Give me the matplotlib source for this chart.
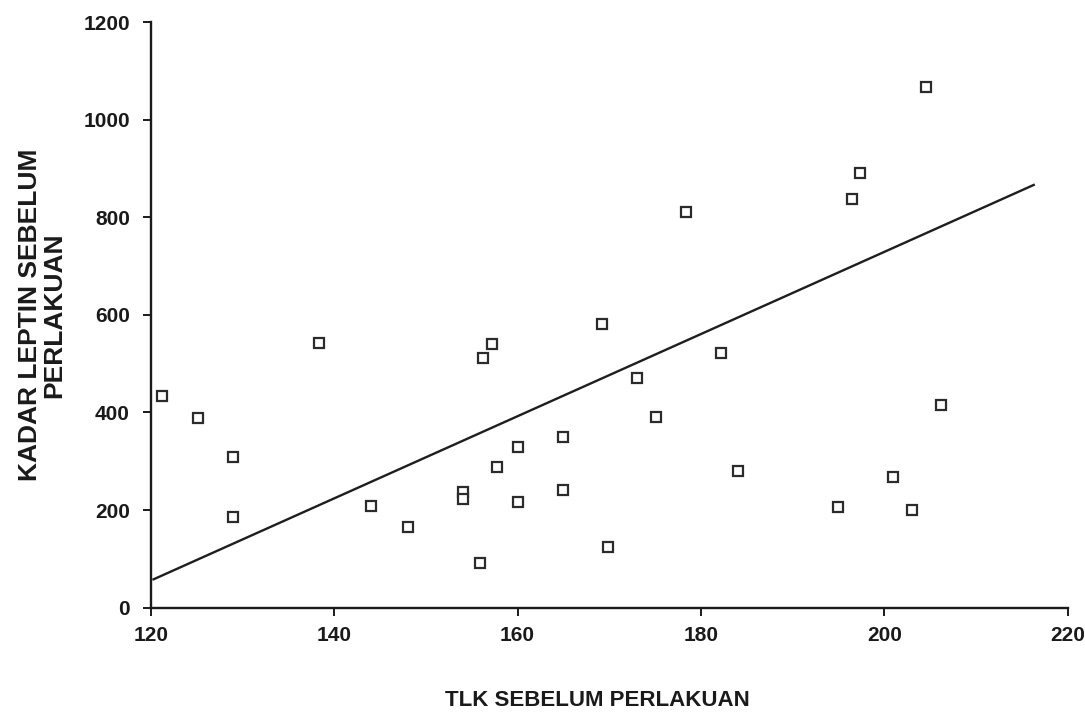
import matplotlib
matplotlib.use("Agg")
import matplotlib.pyplot as plt
import numpy as np

plt.rcParams['font.family'] = ['Liberation Sans', 'DejaVu Sans']

# Data
tlk = [121.2, 125.1, 129.0, 129.0, 138.3, 144.0, 148.0, 154.0, 154.0, 155.9,
       156.2, 157.2, 157.8, 160.1, 160.0, 165.0, 165.0, 169.2, 169.9, 173.0,
       175.1, 182.2, 184.1, 195.0, 201.0, 203.0, 206.2, 178.4, 196.5, 197.4,
       204.5]
leptin = [434, 389, 309, 185, 543, 208, 165, 237, 222, 91,
          511, 540, 288, 329, 217, 350, 242, 581, 124, 470,
          391, 522, 281, 206, 268, 201, 415, 810, 838, 890,
          1067]

# Fitted line (intercept, slope) and its x range
fit_slope = 8.42
fit_intercept = 58.0 - fit_slope * 120.3
fit_x_range = [120.3, 216.3]

x_ticks = [120, 140, 160, 180, 200, 220]
y_ticks = [0, 200, 400, 600, 800, 1000, 1200]

fig = plt.figure(figsize=(10.85, 7.14), dpi=100)
ax = fig.add_axes([0.139, 0.149, 0.845, 0.82])

ax.plot(tlk, leptin, linestyle='none', marker='s', markersize=6.5,
        markerfacecolor='white', markeredgecolor='#2b2b2b', markeredgewidth=1.6)

fx = np.array(fit_x_range)
ax.plot(fx, fit_intercept + fit_slope * fx, color='#1e1e1e', linewidth=1.7)

ax.set_xlim(120, 220)
ax.set_ylim(0, 1200)
ax.set_xticks(x_ticks)
ax.set_yticks(y_ticks)
ax.set_xticklabels([str(v) for v in x_ticks], fontsize=15, fontweight='bold', color='#1a1a1a')
ax.set_yticklabels([str(v) for v in y_ticks], fontsize=15, fontweight='bold', color='#1a1a1a')

for s in ['top', 'right']:
    ax.spines[s].set_visible(False)
for s in ['left', 'bottom']:
    ax.spines[s].set_linewidth(1.7)
    ax.spines[s].set_color('#1a1a1a')
ax.tick_params(direction='out', length=6, width=1.4, colors='#1a1a1a')
ax.tick_params(axis='y', pad=9)
ax.tick_params(axis='x', pad=7)

ax.set_xlabel('TLK SEBELUM PERLAKUAN', fontsize=16, fontweight='bold', color='#1a1a1a')
ax.xaxis.set_label_coords(0.487, -0.14)
ax.set_ylabel('KADAR LEPTIN SEBELUM\nPERLAKUAN', fontsize=19, fontweight='bold',
              color='#1a1a1a', linespacing=1.0)
ax.yaxis.set_label_coords(-0.092, 0.5)

fig.savefig('out.png', dpi=100, facecolor='white')
